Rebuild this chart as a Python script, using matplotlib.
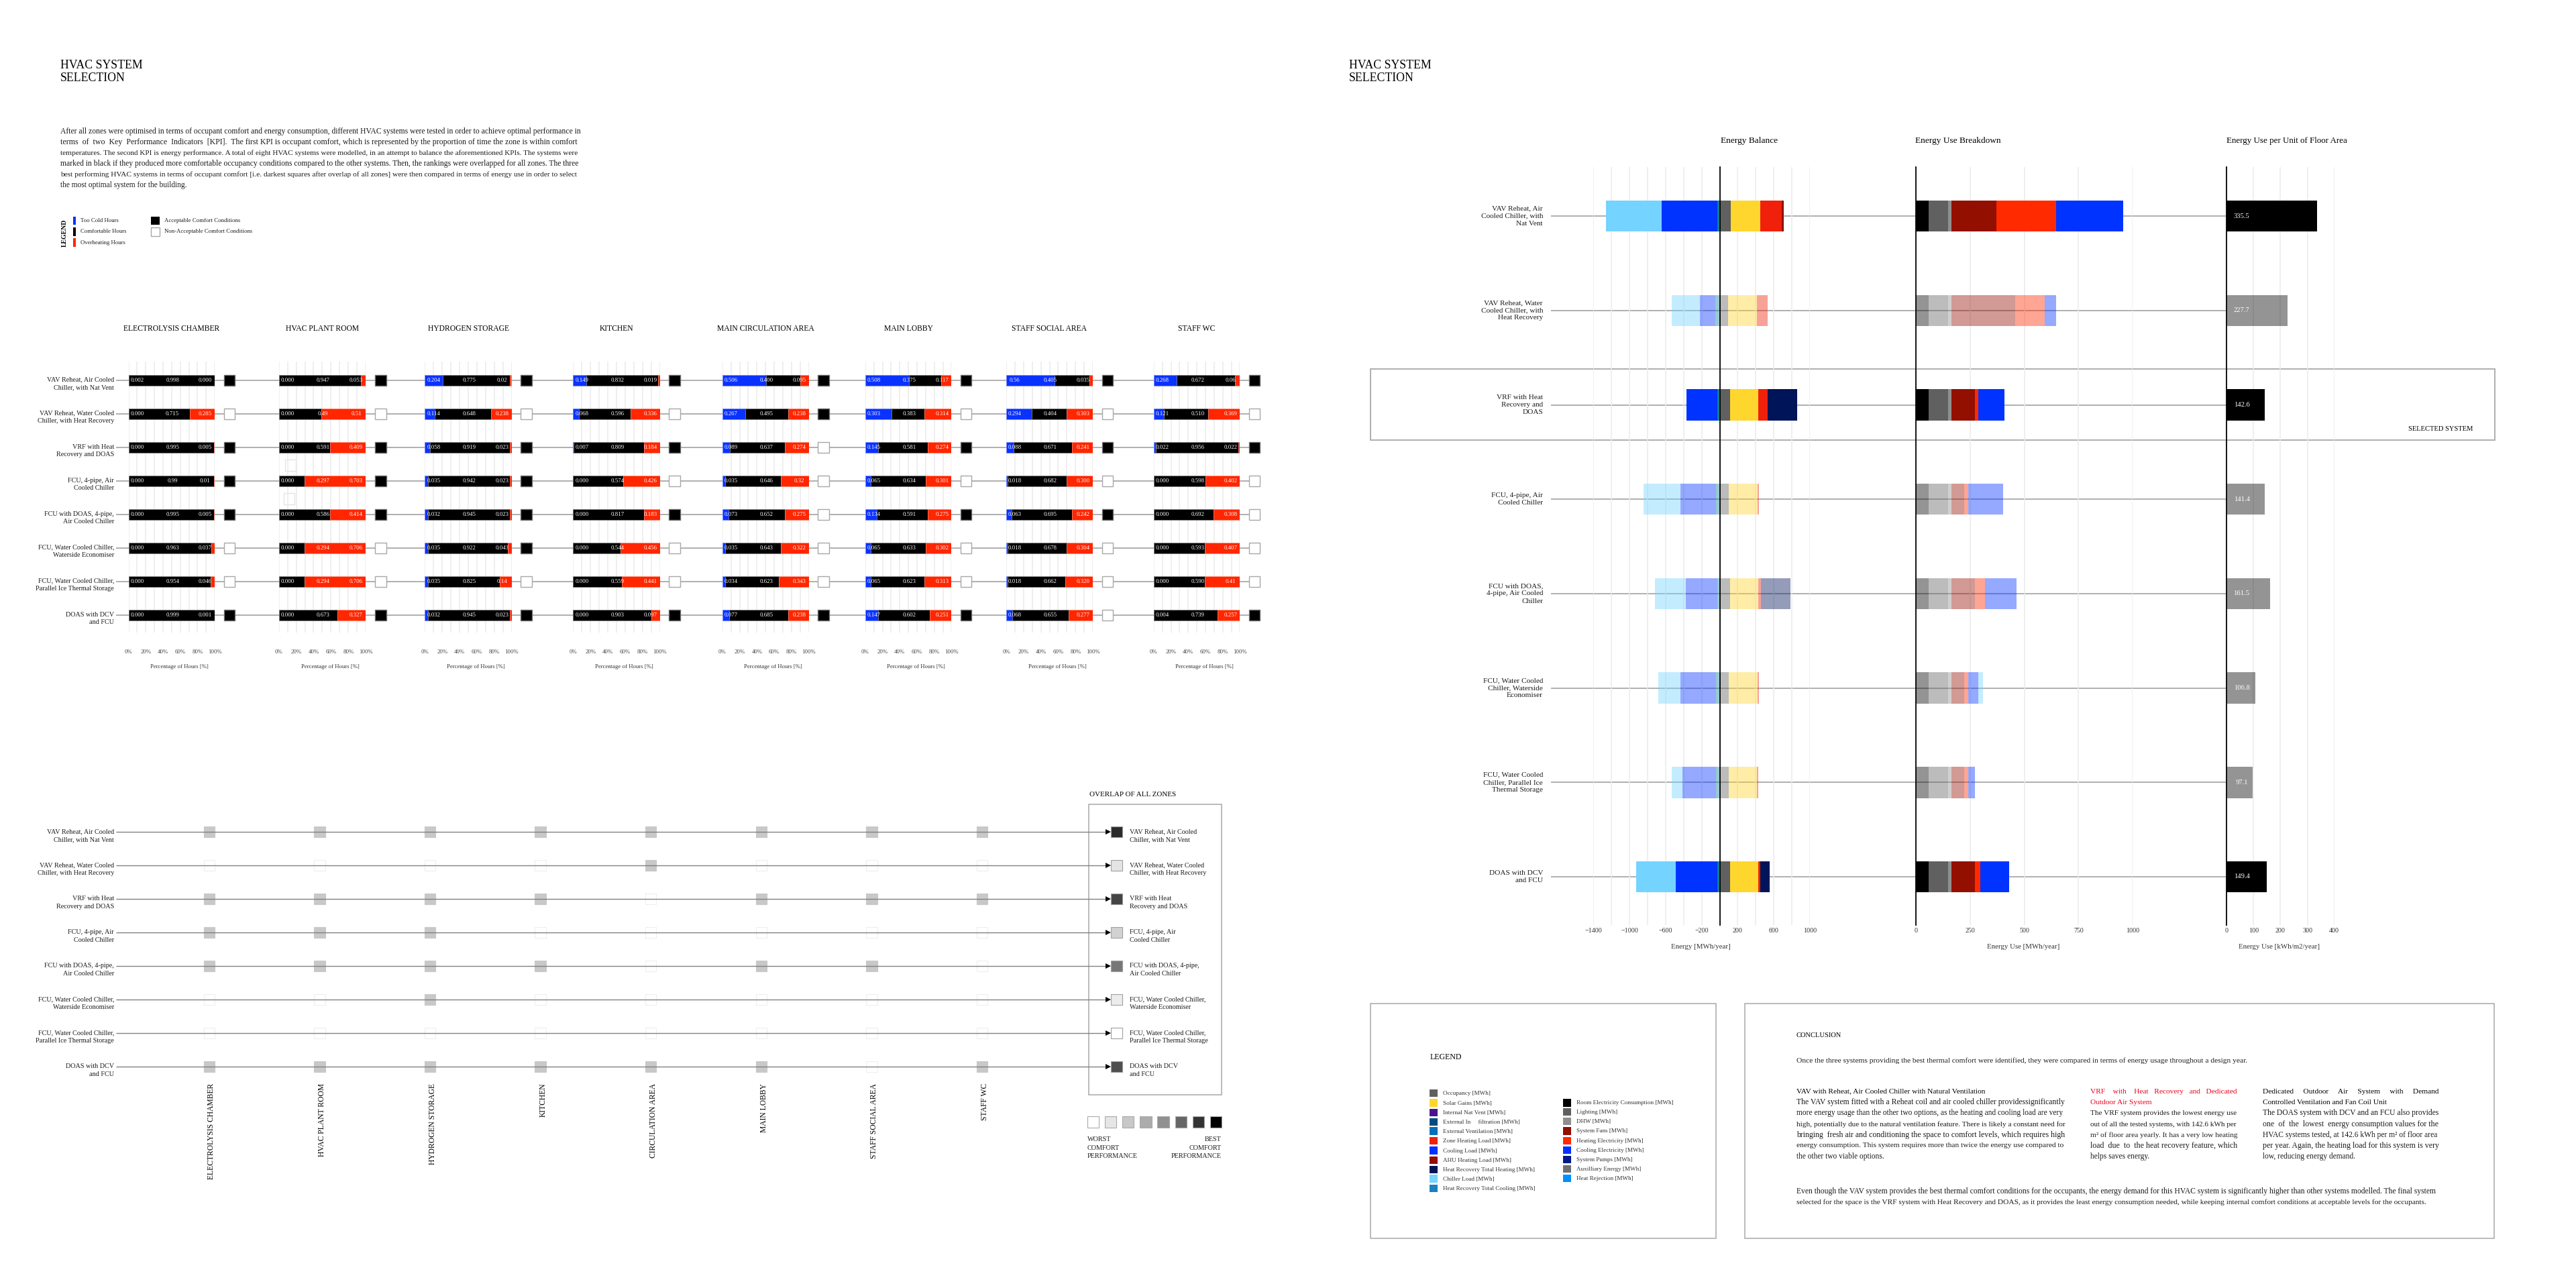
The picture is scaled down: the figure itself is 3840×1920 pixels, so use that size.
"""
plot.py - HVAC system selection board (comfort rankings + energy comparison)
"""

import matplotlib.pyplot as plt
from matplotlib.colors import to_rgba
from matplotlib.patches import Rectangle
import numpy as np

plt.rcParams["font.family"] = ["Liberation Serif", "DejaVu Serif"]

W, H = 3840, 1920

# ---------------- comfort data ----------------
zones = ["ELECTROLYSIS CHAMBER", "HVAC PLANT ROOM", "HYDROGEN STORAGE", "KITCHEN",
         "MAIN CIRCULATION AREA", "MAIN LOBBY", "STAFF SOCIAL AREA", "STAFF WC"]
zones_short = ["ELECTROLYSIS CHAMBER", "HVAC PLANT ROOM", "HYDROGEN STORAGE", "KITCHEN",
               "CIRCULATION AREA", "MAIN LOBBY", "STAFF SOCIAL AREA", "STAFF WC"]

system_labels = ["VAV Reheat, Air Cooled\nChiller, with Nat Vent",
                 "VAV Reheat, Water Cooled\nChiller, with Heat Recovery",
                 "VRF with Heat\nRecovery and DOAS",
                 "FCU, 4-pipe, Air\nCooled Chiller",
                 "FCU with DOAS, 4-pipe,\nAir Cooled Chiller",
                 "FCU, Water Cooled Chiller,\nWaterside Economiser",
                 "FCU, Water Cooled Chiller,\nParallel Ice Thermal Storage",
                 "DOAS with DCV\nand FCU"]

# too cold / comfortable / overheating, kept as the strings printed on the bars
electrolysis = [("0.002", "0.998", "0.000"), ("0.000", "0.715", "0.285"), ("0.000", "0.995", "0.005"),
                ("0.000", "0.99", "0.01"), ("0.000", "0.995", "0.005"), ("0.000", "0.963", "0.037"),
                ("0.000", "0.954", "0.046"), ("0.000", "0.999", "0.001")]
plant_room = [("0.000", "0.947", "0.053"), ("0.000", "0.49", "0.51"), ("0.000", "0.591", "0.409"),
              ("0.000", "0.297", "0.703"), ("0.000", "0.586", "0.414"), ("0.000", "0.294", "0.706"),
              ("0.000", "0.294", "0.706"), ("0.000", "0.673", "0.327")]
hydrogen = [("0.204", "0.775", "0.02"), ("0.114", "0.648", "0.238"), ("0.058", "0.919", "0.023"),
            ("0.035", "0.942", "0.023"), ("0.032", "0.945", "0.023"), ("0.035", "0.922", "0.043"),
            ("0.035", "0.825", "0.14"), ("0.032", "0.945", "0.023")]
kitchen = [("0.149", "0.832", "0.019"), ("0.068", "0.596", "0.336"), ("0.007", "0.809", "0.184"),
           ("0.000", "0.574", "0.426"), ("0.000", "0.817", "0.183"), ("0.000", "0.544", "0.456"),
           ("0.000", "0.559", "0.441"), ("0.000", "0.903", "0.097")]
circulation = [("0.506", "0.400", "0.095"), ("0.267", "0.495", "0.238"), ("0.089", "0.637", "0.274"),
               ("0.035", "0.646", "0.32"), ("0.073", "0.652", "0.275"), ("0.035", "0.643", "0.322"),
               ("0.034", "0.623", "0.343"), ("0.077", "0.685", "0.238")]
lobby = [("0.508", "0.375", "0.117"), ("0.303", "0.383", "0.314"), ("0.145", "0.581", "0.274"),
         ("0.065", "0.634", "0.301"), ("0.134", "0.591", "0.275"), ("0.065", "0.633", "0.302"),
         ("0.065", "0.623", "0.313"), ("0.147", "0.602", "0.251")]
social = [("0.56", "0.405", "0.035"), ("0.294", "0.404", "0.303"), ("0.088", "0.671", "0.241"),
          ("0.018", "0.682", "0.300"), ("0.063", "0.695", "0.242"), ("0.018", "0.678", "0.304"),
          ("0.018", "0.662", "0.320"), ("0.068", "0.655", "0.277")]
staff_wc = [("0.268", "0.672", "0.06"), ("0.121", "0.510", "0.369"), ("0.022", "0.956", "0.022"),
            ("0.000", "0.598", "0.402"), ("0.000", "0.692", "0.308"), ("0.000", "0.593", "0.407"),
            ("0.000", "0.590", "0.41"), ("0.004", "0.739", "0.257")]
zone_rows = [electrolysis, plant_room, hydrogen, kitchen, circulation, lobby, social, staff_wc]

# 1 = acceptable comfort conditions, one list per zone
acceptable = [[1, 0, 1, 1, 1, 0, 0, 1],
              [1, 0, 1, 1, 1, 0, 0, 1],
              [1, 0, 1, 1, 1, 1, 0, 1],
              [1, 0, 1, 0, 1, 0, 0, 1],
              [1, 1, 0, 0, 0, 0, 0, 1],
              [1, 0, 1, 0, 1, 0, 0, 1],
              [1, 0, 1, 0, 1, 0, 0, 0],
              [1, 0, 1, 0, 0, 0, 0, 1]]

overlap_colours = ["#2b2b2b", "#e4e4e4", "#444444", "#d2d2d2", "#777777", "#ececec", "#ffffff", "#4f4f4f"]
scale_colours = ["#ffffff", "#e6e6e6", "#c8c8c8", "#acacac", "#909090", "#666666", "#333333", "#000000"]

# ---------------- energy data (MWh/year) ----------------
energy_labels = ["VAV Reheat, Air\nCooled Chiller, with\nNat Vent",
                 "VAV Reheat, Water\nCooled Chiller, with\nHeat Recovery",
                 "VRF with Heat\nRecovery and\nDOAS",
                 "FCU, 4-pipe, Air\nCooled Chiller",
                 "FCU with DOAS,\n4-pipe, Air Cooled\nChiller",
                 "FCU, Water Cooled\nChiller, Waterside\nEconomiser",
                 "FCU, Water Cooled\nChiller, Parallel Ice\nThermal Storage",
                 "DOAS with DCV\nand FCU"]
row_alpha = [1, 0.42, 1, 0.42, 0.42, 0.42, 0.42, 1]

ventilation = [-30, -47, -30, -43, -26, -43, -43, -30]
cooling_load = [-613, -174, -336, -391, -353, -391, -370, -460]
chiller_load = [-621, -315, 0, -408, -336, -251, -119, -434]
occupancy = [123, 89, 111, 102, 111, 102, 102, 111]
solar_gains = [323, 323, 315, 319, 315, 319, 311, 315]
zone_heating = [243, 119, 106, 13, 30, 13, 13, 26]
ahu_heating = [21, 0, 0, 0, 0, 0, 0, 0]
hr_heating = [0, 0, 323, 0, 328, 0, 0, 102]

room_electricity = [59, 59, 59, 59, 59, 59, 59, 59]
lighting = [89, 89, 89, 89, 89, 89, 89, 89]
dhw = [16, 16, 16, 16, 16, 16, 16, 16]
system_fans = [208, 294, 109, 59, 109, 59, 59, 109]
heating_elec = [276, 137, 14, 18, 44, 18, 18, 25]
cooling_elec = [310, 53, 121, 162, 146, 46, 32, 132]
heat_rejection = [0, 0, 0, 0, 0, 21, 0, 0]

eui = [335.5, 227.7, 142.6, 141.4, 161.5, 106.8, 97.1, 149.4]

legend_left = [("Occupancy [MWh]", "#606060"), ("Solar Gains [MWh]", "#ffd62d"),
               ("Internal Nat Vent [MWh]", "#4b1390"), ("External In     filtration [MWh]", "#004c80"),
               ("External Ventilation [MWh]", "#0070b8"), ("Zone Heating Load [MWh]", "#f0200a"),
               ("Cooling Load [MWh]", "#0033ff"), ("AHU Heating Load [MWh]", "#930f00"),
               ("Heat Recovery Total Heating [MWh]", "#00145a"), ("Chiller Load [MWh]", "#74d3ff"),
               ("Heat Recovery Total Cooling [MWh]", "#1a80c0")]
legend_right = [("Room Electricity Consumption [MWh]", "#000000"), ("Lighting [MWh]", "#606060"),
                ("DHW [MWh]", "#8f8f8f"), ("System Fans [MWh]", "#930f00"),
                ("Heating Electricity [MWh]", "#ff2a00"), ("Cooling Electricity [MWh]", "#0033ff"),
                ("System Pumps [MWh]", "#001a8c"), ("Auxilliary Energy [MWh]", "#707070"),
                ("Heat Rejection [MWh]", "#0090ff")]

# ---------------- copy ----------------
intro_lines = [
    "After all zones were optimised in terms of occupant comfort and energy consumption, different HVAC systems were tested in order to achieve optimal performance in",
    "terms of two Key Performance Indicators [KPI]. The first KPI is occupant comfort, which is represented by the proportion of time the zone is within comfort",
    "temperatures. The second KPI is energy performance. A total of eight HVAC systems were modelled, in an attempt to balance the aforementioned KPIs. The systems were",
    "marked in black if they produced more comfortable occupancy conditions compared to the other systems. Then, the rankings were overlapped for all zones. The three",
    "best performing HVAC systems in terms of occupant comfort [i.e. darkest squares after overlap of all zones] were then compared in terms of energy use in order to select",
]
col1_lines = [
    "The VAV system fitted with a Reheat coil and air cooled chiller providessignificantly",
    "more energy usage than the other two options, as the heating and cooling load are very",
    "high, potentially due to the natural ventilation feature. There is likely a constant need for",
    "bringing fresh air and conditioning the space to comfort levels, which requires high",
    "energy consumption. This system requires more than twice the energy use compared to",
]
col2_lines = [
    "The VRF system provides the lowest energy use",
    "out of all the tested systems, with 142.6 kWh per",
    "m² of floor area yearly. It has a very low heating",
    "load due to the heat recovery feature, which",
]
col3_lines = [
    "The DOAS system with DCV and an FCU also provides",
    "one of the lowest energy consumption values for the",
    "HVAC systems tested, at 142.6 kWh per m² of floor area",
    "per year. Again, the heating load for this system is very",
]
closing_lines = [
    "Even though the VAV system provides the best thermal comfort conditions for the occupants, the energy demand for this HVAC system is significantly higher than other systems modelled. The final system",
    "selected for the space is the VRF system with Heat Recovery and DOAS, as it provides the least energy consumption needed, while keeping internal comfort conditions at acceptable levels for the occupants.",
]

BLUE, RED, GRID = "#0a32ff", "#ff2600", "#ebebeb"
LINE = "#9a9a9a"
EDGE = "#a8a8a8"
INK = "#1c1c1c"
BODY = 8.6

fig = plt.figure(figsize=(W / 100, H / 100), dpi=100, facecolor="white")
renderer = fig.canvas.get_renderer()


# all layout work is in reference pixels
def px_rect(x0, y0, x1, y1):
    return [x0 / W, 1 - y1 / H, (x1 - x0) / W, (y1 - y0) / H]


ov = fig.add_axes([0, 0, 1, 1], zorder=0)
ov.set_xlim(0, W)
ov.set_ylim(H, 0)
ov.axis("off")


def frame(x0, y0, x1, y1, color=EDGE, lw=1.1):
    ov.add_patch(Rectangle((x0, y0), x1 - x0, y1 - y0, fill=False, edgecolor=color, linewidth=lw))


def label(x, y, s, size=8.3, ha="left", color=INK, **kw):
    return ov.text(x, y, s, fontsize=size, ha=ha, va="center", color=color, **kw)


# stretch the word gaps so a line fills its column like the justified original
def justified(x, y, s, width, size=BODY, color=INK):
    t = label(x, y, s, size, color=color)
    w = t.get_window_extent(renderer).width
    if w > width:
        t.set_fontsize(size * width / w)
        return t
    words = s.split(" ")
    gaps = len(words) - 1
    extra = int(round((width - w) / (0.25 * size * 100 / 72)))
    out = words[0]
    for i, word in enumerate(words[1:]):
        out += " " * (1 + extra // gaps + (1 if i < extra % gaps else 0)) + word
    t.set_text(out)
    return t


# ---------------- left page: heading ----------------
for x in (90, 2011):
    label(x, 97.7, "HVAC SYSTEM", 12.8, color="black")
    label(x, 116.7, "SELECTION", 12.8, color="black")

for y, line in zip((196, 212, 228, 244.3, 260.3), intro_lines):
    justified(90, y, line, 772)
label(90, 276.3, "the most optimal system for the building.")

# small comfort legend
label(96, 347, "LEGEND", 7, ha="center", rotation=90, color="black", fontweight="bold")
for y, colour, text in zip((329, 345.3, 361.5), (BLUE, "black", RED),
                           ("Too Cold Hours", "Comfortable Hours", "Overheating Hours")):
    ov.add_patch(Rectangle((108.8, y - 6.3), 4.6, 12.6, color=colour, lw=0))
    label(120, y, text, 6.3)
ov.add_patch(Rectangle((224.7, 322.7), 13.3, 12.6, color="black", lw=0))
ov.add_patch(Rectangle((224.7, 339), 13.3, 12.6, facecolor="white", edgecolor=EDGE, lw=1))
label(244.8, 329, "Acceptable Comfort Conditions", 6.3)
label(244.8, 345.3, "Non-Acceptable Comfort Conditions", 6.3)

# ---------------- left page: comfort panels ----------------
panel_x = [(191.6, 320.1), (415.6, 545.3), (633.4, 762.6), (854.4, 983.5),
           (1076.9, 1205.5), (1289.9, 1418.4), (1500, 1629), (1719.8, 1848.4)]
ROW0, ROW_STEP = 566.8, 50.0
GRID_TOP, GRID_BOTTOM = 538.9, 942.5
rows = np.arange(8)

for i, lab in enumerate(system_labels):
    y = ROW0 + ROW_STEP * i
    ov.plot([173, 1870], [y, y], color=LINE, lw=1.1, solid_capstyle="butt")
    label(170, y + 5.3, lab, 7.3, ha="right", ma="right", linespacing=1.4)


def edge_widths(values):
    return [0.5 if v > 0 else 0 for v in values]


for name, (x0, x1), table, ok in zip(zones, panel_x, zone_rows, acceptable):
    ax = fig.add_axes(px_rect(x0, GRID_TOP, x1, GRID_BOTTOM), zorder=1)
    ax.patch.set_alpha(0)
    ax.set_xlim(0, 1)
    ax.set_ylim((GRID_BOTTOM - ROW0) / ROW_STEP, (GRID_TOP - ROW0) / ROW_STEP)

    cold = np.array([float(r[0]) for r in table])
    comfy = np.array([float(r[1]) for r in table])
    hot = np.array([float(r[2]) for r in table])
    ax.barh(rows, cold, 0.316, color=BLUE, edgecolor="#7088ff", linewidth=edge_widths(cold), zorder=3)
    ax.barh(rows, comfy, 0.316, left=cold, color="black", edgecolor="#808080", linewidth=edge_widths(comfy), zorder=3)
    ax.barh(rows, hot, 0.316, left=cold + comfy, color=RED, edgecolor="#ff8870", linewidth=edge_widths(hot), zorder=3)

    for r, row in enumerate(table):
        for xpos, val in zip((0.10, 0.51, 0.89), row):
            ax.text(xpos, r, val, color="white", fontsize=6.3, ha="center", va="center", zorder=4)

    # pass / fail square beside each bar
    ax.bar(np.full(8, 1.17), np.full(8, 0.32), width=0.128, bottom=rows - 0.16,
           color=["black" if v else "white" for v in ok],
           edgecolor=["#707070" if v else EDGE for v in ok], linewidth=1.0, clip_on=False, zorder=3)

    ax.set_yticks([])
    ax.set_xticks(np.arange(0, 1.01, 0.2))
    ax.set_xticks(np.arange(0.1, 1, 0.2), minor=True)
    ax.set_xticklabels([f"{v}%" for v in range(0, 101, 20)], fontsize=6.3, color="#444444")
    ax.tick_params(which="both", length=0, pad=18)
    ax.grid(True, which="both", axis="x", color=GRID, lw=1.1, zorder=0)
    ax.set_axisbelow(True)
    for s in ax.spines.values():
        s.set_visible(False)
    ax.set_xlabel("Percentage of Hours [%]", fontsize=6.3, color="#333333")
    ax.xaxis.set_label_coords(0.59, -0.127)
    ax.xaxis.label.set_va("center")

    label((x0 + x1) / 2, 489.6, name, 8.4, ha="center", color="black")

# the two stray empty squares in the plant room column
for sx, sy in ((424.8, 685.3), (423, 735.2)):
    ov.add_patch(Rectangle((sx, sy), 16.4, 16.4, facecolor="white", edgecolor="#e4e4e4", lw=1))

# ---------------- left page: overlap matrix ----------------
MATRIX_Y0, COL0, COL_STEP = 1240.2, 311.8, 164.6
mat = fig.add_axes(px_rect(COL0 - COL_STEP / 2, MATRIX_Y0 - 25, COL0 + 7.5 * COL_STEP, MATRIX_Y0 + 375), zorder=-1)
mat.set_xlim(-0.5, 7.5)
mat.set_ylim(7.5, -0.5)
mat.axis("off")
for c, ok in enumerate(acceptable):
    mat.bar(np.full(8, c), np.full(8, 0.326), width=0.1, bottom=rows - 0.163,
            color=["#c8c8c8" if v else "white" for v in ok],
            edgecolor=["#c8c8c8" if v else "#eeeeee" for v in ok], linewidth=0.8)
    ov.text(COL0 + COL_STEP * c + 3.7, 1614.7, zones_short[c], fontsize=8.4, rotation=90,
            ha="center", va="top", color="black")

label(1624, 1184.3, "OVERLAP OF ALL ZONES", 7.9, color="black")
frame(1622.8, 1198.6, 1821.4, 1632.3)

for i, lab in enumerate(system_labels):
    y = MATRIX_Y0 + ROW_STEP * i
    ov.plot([173, 1650], [y, y], color="#808080", lw=1.0, solid_capstyle="butt")
    ov.plot([1652], [y], marker=">", ms=5.5, color="black", mew=0)
    label(170, y + 5.3, lab, 7.3, ha="right", ma="right", linespacing=1.4)
    ov.add_patch(Rectangle((1656, y - 8.2), 16.7, 16.4, facecolor=overlap_colours[i],
                           edgecolor="#a0a0a0", lw=0.8))
    label(1684, y + 5.3, lab, 7.3, ma="left", linespacing=1.4)

for i, colour in enumerate(scale_colours):
    sx = 1621 + 26.1 * i
    ov.add_patch(Rectangle((sx, 1664), 17.2, 16.8, facecolor=colour, edgecolor="#aaaaaa", lw=0.8))
for y, a, b in zip((1698.8, 1711.4, 1724), ("WORST", "COMFORT", "PERFORMANCE"), ("BEST", "COMFORT", "PERFORMANCE")):
    label(1621, y, a, 7.4)
    label(1820.8, y, b, 7.4, ha="right")

# ---------------- right page: energy comparison ----------------
E_ROW0, E_STEP = 322.1, 140.7
E_TOP, E_BOTTOM = 249, 1378.6
BAR_H = 0.33

label(2565.4, 209.6, "Energy Balance", 9.6, color="black")
label(2855, 209.6, "Energy Use Breakdown", 9.6, color="black")
label(3319, 209.6, "Energy Use per Unit of Floor Area", 9.4, color="black")

frame(2042.5, 549.5, 3718.5, 655.9, lw=1.3)
label(3590.5, 639.8, "SELECTED SYSTEM", 7.6, color="black")

for i, lab in enumerate(energy_labels):
    y = E_ROW0 + E_STEP * i
    ov.plot([2312, 3319], [y, y], color=LINE, lw=1.1, solid_capstyle="butt")
    label(2300, y, lab, 8.1, ha="right", ma="right", linespacing=1.3)


def energy_axes(x0, x1, xlim, ticks, minor, xlabel, label_x):
    ax = fig.add_axes(px_rect(x0, E_TOP, x1, E_BOTTOM), zorder=1)
    ax.patch.set_alpha(0)
    ax.set_xlim(*xlim)
    ax.set_ylim((E_BOTTOM - E_ROW0) / E_STEP, (E_TOP - E_ROW0) / E_STEP)
    ax.set_yticks([])
    ax.set_xticks(ticks)
    ax.set_xticks(minor, minor=True)
    ax.tick_params(which="both", length=0, pad=3, labelsize=7.2, labelcolor="#333333")
    ax.grid(True, which="both", axis="x", color=GRID, lw=1.1, zorder=0)
    ax.set_axisbelow(True)
    for s in ax.spines.values():
        s.set_visible(False)
    ax.axvline(0, color="black", lw=1.3, clip_on=False, zorder=5)
    ax.set_xlabel(xlabel, fontsize=7.8, color="#333333")
    ax.xaxis.set_label_coords((label_x - x0) / (x1 - x0), -(1411 - E_BOTTOM) / (E_BOTTOM - E_TOP))
    ax.xaxis.label.set_va("center")
    return ax


def stack(ax, series):
    left = np.zeros(8)
    for values, colour in series:
        values = np.array(values, dtype=float)
        ax.barh(rows, values, BAR_H, left=left, linewidth=0, zorder=3,
                color=[to_rgba(colour, a) for a in row_alpha])
        left += values


balance = energy_axes(2375.4, 2698, (-1400, 1000), [-1400, -1000, -600, -200, 200, 600, 1000],
                      [-1200, -800, -400, 0, 400, 800], "Energy [MWh/year]", 2535.5)
stack(balance, [(ventilation, "#0a7f96"), (cooling_load, "#0033ff"), (chiller_load, "#74d3ff")])
stack(balance, [(occupancy, "#606060"), (solar_gains, "#ffd62d"), (zone_heating, "#f0200a"),
                (ahu_heating, "#930f00"), (hr_heating, "#00145a")])

breakdown = energy_axes(2856.3, 3178.9, (0, 1000), [0, 250, 500, 750, 1000], [],
                        "Energy Use [MWh/year]", 3015.9)
stack(breakdown, [(room_electricity, "#000000"), (lighting, "#606060"), (dhw, "#8f8f8f"),
                  (system_fans, "#930f00"), (heating_elec, "#ff2a00"), (cooling_elec, "#0033ff"),
                  (heat_rejection, "#74d3ff")])

per_area = energy_axes(3319, 3479.7, (0, 400), [0, 100, 200, 300, 400], [],
                       "Energy Use [kWh/m2/year]", 3397.3)
per_area.barh(rows, eui, BAR_H, linewidth=0, zorder=3, color=[to_rgba("black", a) for a in row_alpha])
for r, v in enumerate(eui):
    per_area.text(56, r, f"{v}", color="white", fontsize=7.6, ha="center", va="center", zorder=4)

# ---------------- right page: legend box ----------------
frame(2042.9, 1496, 2558.4, 1846)
label(2131.4, 1575.7, "LEGEND", 8.6, color="black")
for y, (text, colour) in zip((1629.3, 1644, 1658.3, 1672.3, 1686, 1700.3, 1715, 1729.3, 1743.3, 1757, 1771.3), legend_left):
    ov.add_patch(Rectangle((2131.4, y - 5.6), 11.1, 11.3, color=colour, lw=0))
    label(2151.4, y + 1, text, 6.6, color="#333333")
for y, (text, colour) in zip((1644, 1657.7, 1671.7, 1686, 1700.7, 1714.7, 1728.7, 1742.7, 1756.7), legend_right):
    ov.add_patch(Rectangle((2329.5, y - 5.6), 12.9, 11.3, color=colour, lw=0))
    label(2349.9, y, text, 6.6, color="#333333")

# ---------------- right page: conclusion box ----------------
frame(2600.7, 1496, 3717.8, 1846)
label(2677.8, 1543.7, "CONCLUSION", 7.6, color="black")
justified(2677.8, 1581, "Once the three systems providing the best thermal comfort were identified, they were compared in terms of energy usage throughout a design year.", 674)

label(2677.8, 1627, "VAV with Reheat, Air Cooled Chiller with Natural Ventilation", 8.2, color="black")
for y, line in zip((1643.3, 1659.3, 1675.7, 1692, 1708), col1_lines):
    justified(2677.8, y, line, 399)
label(2677.8, 1724.3, "the other two viable options.")

justified(3116, 1627, "VRF with Heat Recovery and Dedicated", 219, 8.2, color="#e8001c")
label(3116, 1643.3, "Outdoor Air System", 8.2, color="#e8001c")
for y, line in zip((1659.3, 1675.7, 1692, 1708), col2_lines):
    justified(3116, y, line, 219)
label(3116, 1724.3, "helps saves energy.")

justified(3372.6, 1627, "Dedicated Outdoor Air System with Demand", 262, 8.2, color="black")
label(3372.6, 1643.3, "Controlled Ventilation and Fan Coil Unit", 8.2, color="black")
for y, line in zip((1659.3, 1675.7, 1692, 1708), col3_lines):
    justified(3372.6, y, line, 262)
label(3372.6, 1724.3, "low, reducing energy demand.")

justified(2677.8, 1776.3, closing_lines[0], 957)
justified(2677.8, 1792.3, closing_lines[1], 941)

fig.savefig("out.png", dpi=100, facecolor="white")
